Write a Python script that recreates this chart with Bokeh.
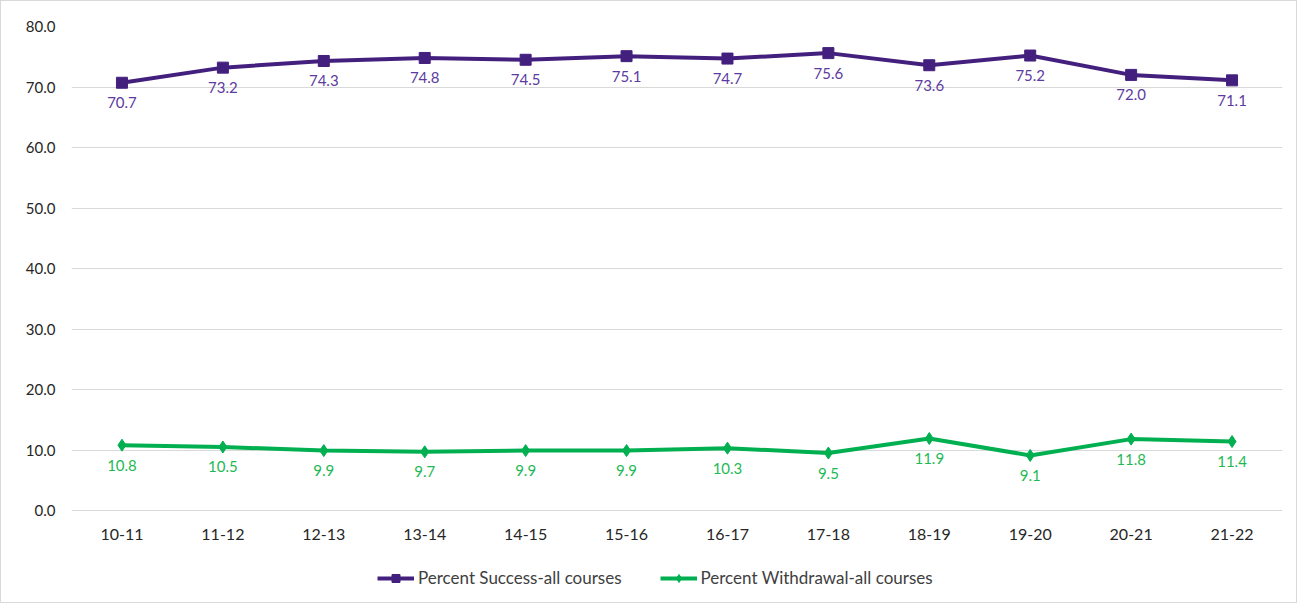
from bokeh.plotting import figure
from bokeh.models import ColumnDataSource, Legend, LegendItem, FixedTicker, NumeralTickFormatter
from bokeh.embed import file_html
from bokeh.resources import INLINE
from bokeh.core.properties import value

years = ["10-11", "11-12", "12-13", "13-14", "14-15", "15-16", "16-17", "17-18", "18-19", "19-20", "20-21", "21-22"]
success = [70.7, 73.2, 74.3, 74.8, 74.5, 75.1, 74.7, 75.6, 73.6, 75.2, 72.0, 71.1]
withdrawal = [10.8, 10.5, 9.9, 9.7, 9.9, 9.9, 10.3, 9.5, 11.9, 9.1, 11.8, 11.4]
y_ticks = [0, 10, 20, 30, 40, 50, 60, 70, 80]
success_name = "Percent Success-all courses"
withdrawal_name = "Percent Withdrawal-all courses"

PURPLE = "#44207E"
PURPLE_LBL = "#5B3BA0"
GREEN = "#00B050"
GREEN_LBL = "#1DB954"
FONT = "Lato"
AXIS_TXT = "#262626"

# scale: 484 px for 0..80 ; extra room below 0 for category labels + legend
px_per_unit = 484 / 80
y_bottom = -89 / px_per_unit

src = ColumnDataSource(dict(
    x=years, s=success, w=withdrawal, zero=[y_ticks[0]] * len(years),
    sl=[f"{v:.1f}" for v in success], wl=[f"{v:.1f}" for v in withdrawal],
))

p = figure(x_range=years, y_range=(y_bottom, y_ticks[-1]), width=1297, height=603,
           output_backend="svg", toolbar_location=None, x_axis_location=None,
           min_border_left=70, min_border_right=16, min_border_top=25, min_border_bottom=5)
p.styles = {"border": "1px solid #D9D9D9"}
p.outline_line_color = None
p.xgrid.grid_line_color = None
p.ygrid.grid_line_color = "#D9D9D9"
p.ygrid.grid_line_width = 1
p.x_range.range_padding = 0

p.yaxis.ticker = FixedTicker(ticks=y_ticks)
p.yaxis.formatter = NumeralTickFormatter(format="0.0")
ax = p.yaxis[0]
ax.axis_line_color = None
ax.major_tick_line_color = None
ax.minor_tick_line_color = None
ax.major_tick_out = 0
ax.major_tick_in = 0
ax.minor_tick_out = 0
ax.major_label_text_font = FONT
ax.major_label_text_font_size = "15px"
ax.major_label_text_color = AXIS_TXT
ax.major_label_standoff = 16

# category labels (x axis)
p.text("x", "zero", text="x", source=src, text_font=value(FONT), text_font_size="16px",
       text_color=AXIS_TXT, text_align="center", text_baseline="middle", y_offset=24)

l1 = p.line("x", "s", source=src, line_color=PURPLE, line_width=4)
m1 = p.scatter("x", "s", source=src, marker="square", size=11, fill_color=PURPLE, line_color=PURPLE)
l2 = p.line("x", "w", source=src, line_color=GREEN, line_width=4)
m2 = p.scatter("x", "w", source=src, marker="diamond", size=12, fill_color=GREEN, line_color=GREEN)

p.text("x", "s", text="sl", source=src, text_font=value(FONT), text_font_size="15px",
       text_color=PURPLE_LBL, text_align="center", text_baseline="middle", y_offset=20)
p.text("x", "w", text="wl", source=src, text_font=value(FONT), text_font_size="15px",
       text_color=GREEN_LBL, text_align="center", text_baseline="middle", y_offset=20)

legend = Legend(items=[LegendItem(label=success_name, renderers=[l1, m1]),
                       LegendItem(label=withdrawal_name, renderers=[l2, m2])],
                orientation="horizontal", location=(306, 11),
                label_text_font=FONT, label_text_font_size="17px", label_text_color="#404040",
                border_line_color=None, background_fill_alpha=0,
                glyph_width=37, label_standoff=4, spacing=38, margin=0, padding=2)
p.add_layout(legend, "center")

open("out.html", "w").write(file_html(p, INLINE))
